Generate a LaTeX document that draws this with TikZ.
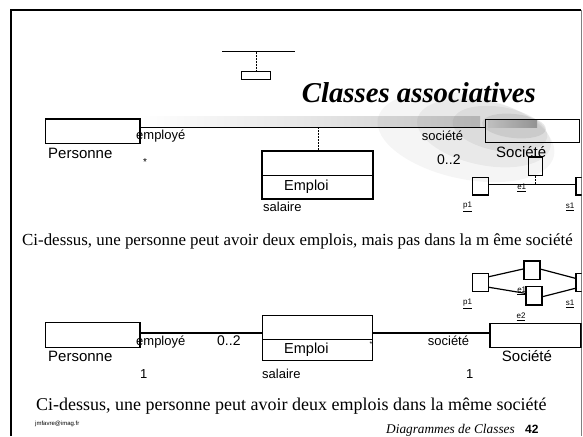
\documentclass[tikz,border=0pt]{standalone}
\usepackage{fontspec}
\setmainfont{Liberation Serif}
\setsansfont{Liberation Sans}
\usetikzlibrary{calc}
\begin{document}
\begin{tikzpicture}[x=1pt,y=-1pt,
  box/.style={draw, line width=1.3pt, rectangle, inner sep=0pt, outer sep=0pt},
  assoc/.style={line width=1.2pt},
  dashv/.style={line width=1pt, dash pattern=on 2pt off 1pt},
  lab/.style={font=\fontsize{13}{13}\sffamily, inner sep=0pt, anchor=base west},
  cls/.style={font=\fontsize{15}{15}\sffamily, inner sep=0pt, anchor=base west},
  obj/.style={draw, line width=1.3pt, inner sep=0pt, minimum width=16pt, minimum height=18pt},
  olab/.style={font=\fontsize{8}{8}\sffamily, inner sep=0pt},
  captxt/.style={inner sep=0pt, anchor=base west}]
\useasboundingbox (0,0) rectangle (583,436);

% decorative shading
\shade[left color=white, right color=gray!40] (140,116) rectangle (480,127);
\fill[gray, opacity=0.08] (466,137) ellipse [x radius=90, y radius=42, rotate=-12];
\fill[gray, opacity=0.10] (484,133) ellipse [x radius=68, y radius=32, rotate=-12];
\fill[gray, opacity=0.13] (500,129) ellipse [x radius=48, y radius=22, rotate=-10];
\fill[gray, opacity=0.18] (514,126) ellipse [x radius=32, y radius=12, rotate=-6];
\shade[left color=gray!50, right color=gray!85] (488,120) rectangle (537,127);

% frame
\draw[line width=1.5pt] (11,436) -- (11,10) -- (581,10);
\draw[gray, line width=0.8pt] (581.5,10) -- (581.5,436);

% top icon
\coordinate (ibl) at (222,51.7);
\coordinate (ibr) at (295,51.7);
\coordinate (itop) at (256,51.7);
\node[box, line width=1.2pt, minimum width=28.3pt, minimum height=7.6pt] (ibox) at (256,75.5) {};
\draw[assoc] (ibl) -- (ibr);
\draw[dashv] (itop) -- (ibox.north);

% title
\node[font=\fontsize{28.75}{30}\selectfont\bfseries\itshape, anchor=base west, inner sep=0pt] (title) at (301.7,102.7) {Classes associatives};

\begin{scope}
\clip (0,0) rectangle (581.5,436);
% ---------- top diagram ----------
\node[box, minimum width=94.3pt, minimum height=24.3pt] (pers1) at (92.85,131.15) {};
\node[box, minimum width=93.6pt, minimum height=23.4pt] (soc1) at (532.5,131) {};
\node[box, minimum width=111pt, minimum height=48pt] (emp1) at (317.5,175) {};
\coordinate (a1) at (318,127.3);
\coordinate (d1) at (0,175.7);
\draw[line width=1.2pt] (emp1.west |- d1) -- (emp1.east |- d1);
\draw[assoc] (pers1.east |- a1) -- (soc1.west |- a1);
\draw[dashv] (a1) -- (a1 |- emp1.north);

\node[cls] (tpers) at (48,158.3) {Personne};
\node[lab] (temploye1) at (136,139.3) {employé};
\node[font=\fontsize{10}{10}\sffamily, inner sep=0pt] (tstar1) at (145,162.5) {*};
\node[cls, font=\fontsize{14.5}{15}\sffamily] (temp1) at (284,190.7) {Emploi};
\node[lab] (tsal1) at (263,211) {salaire};
\node[lab] (tsoc1) at (421.7,140) {société};
\node[cls] (tSoc1) at (496,157.3) {Société};
\node[lab, font=\fontsize{14}{14}\sffamily] (t02a) at (437,164) {0..2};

% object diagram 1
\node[obj, minimum width=16pt, minimum height=17.7pt] (p1a) at (480.3,186.15) {};
\node[obj, minimum width=14.4pt, minimum height=18.7pt] (e1a) at (535.5,166.35) {};
\node[obj, minimum width=16pt, minimum height=17.7pt] (s1a) at (584,186.15) {};
\draw[assoc] ($(p1a.east)+(0,-1.4)$) -- ($(s1a.west)+(0,-1.4)$);
\coordinate (l1) at (0,184.7);
\draw[line width=1pt, dash pattern=on 1.5pt off 1.5pt] (e1a.south) -- (e1a.south |- l1);
\node[olab] (te1a) at (521.7,188) {\underline{e1}};
\node[olab] (tp1a) at (467.5,207) {\underline{p1}};
\node[olab] (ts1a) at (570,207) {\underline{s1}};

% object diagram 2
\node[obj, minimum width=16pt, minimum height=18.4pt] (p1b) at (480.3,282.5) {};
\node[obj, minimum width=16pt, minimum height=18.3pt] (eta) at (532,270.15) {};
\node[obj, minimum width=16pt, minimum height=18.3pt] (ebb) at (534,295.85) {};
\node[obj, minimum width=16pt, minimum height=18.4pt] (s1b) at (584,282.5) {};
\draw[assoc] ($(p1b.east)+(0,-5.8)$) -- ($(eta.west)+(0,-1.2)$);
\draw[assoc] ($(eta.east)+(0,-1)$) -- ($(s1b.west)+(0,-4.2)$);
\draw[assoc] ($(p1b.east)+(0,4.8)$) -- ($(ebb.west)+(0,-2.5)$);
\draw[assoc] ($(ebb.east)+(0,0.8)$) -- ($(s1b.west)+(0,5.8)$);
\node[olab] (te1b) at (521.7,291) {\underline{e1}};
\node[olab] (tp1b) at (467.5,304) {\underline{p1}};
\node[olab] (ts1b) at (570,304) {\underline{s1}};
\node[olab] (te2b) at (521,316.7) {\underline{e2}};

% ---------- bottom diagram ----------
\node[box, minimum width=94.3pt, minimum height=25pt] (pers2) at (92.85,335.2) {};
\node[box, minimum width=110pt, minimum height=45pt] (emp2) at (317.3,338.2) {};
\node[box, minimum width=91pt, minimum height=24pt] (soc2) at (535.5,335.3) {};
\coordinate (d2) at (0,339.3);
\draw[line width=1.2pt] (emp2.west |- d2) -- (emp2.east |- d2);
\coordinate (a2) at (0,332.9);
\draw[assoc] (pers2.east |- a2) -- (emp2.west |- a2);
\draw[assoc] (emp2.east |- a2) -- (soc2.west |- a2);

\node[cls] (tpers2) at (48,361.7) {Personne};
\node[lab] (temploye2) at (136,345) {employé};
\node[lab, font=\fontsize{14}{14}\sffamily] (t02b) at (217,345) {0..2};
\node[lab] (t1a) at (140,378) {1};
\node[cls, font=\fontsize{14.5}{15}\sffamily] (temp2) at (284,353.3) {Emploi};
\node[lab] (tsal2) at (262,378) {salaire};
\node[font=\fontsize{7}{7}\sffamily, inner sep=0pt] (tstar2) at (371,344) {*};
\node[lab] (tsoc2) at (427.7,345) {société};
\node[cls] (tSoc2) at (501.7,361.7) {Société};
\node[lab] (t1b) at (466,378) {1};
\end{scope}

% captions
\node[captxt, font=\fontsize{16.9}{17}\selectfont] (cap1) at (22,245) {Ci-dessus, une personne peut avoir deux emplois, mais pas dans la m ême société};
\node[captxt, font=\fontsize{18}{18}\selectfont] (cap2) at (36,410.5) {Ci-dessus, une personne peut avoir deux emplois dans la même société};

% footer
\node[font=\fontsize{6}{6}\sffamily, inner sep=0pt, anchor=base west] (mail) at (35,425) {jmfavre@imag.fr};
\node[font=\fontsize{13.3}{13}\selectfont\itshape, inner sep=0pt, anchor=base west] (foot) at (386,433) {Diagrammes de Classes};
\node[font=\fontsize{12}{12}\sffamily\bfseries, inner sep=0pt, anchor=base west] (page) at (525,433) {42};
\end{tikzpicture}
\end{document}
